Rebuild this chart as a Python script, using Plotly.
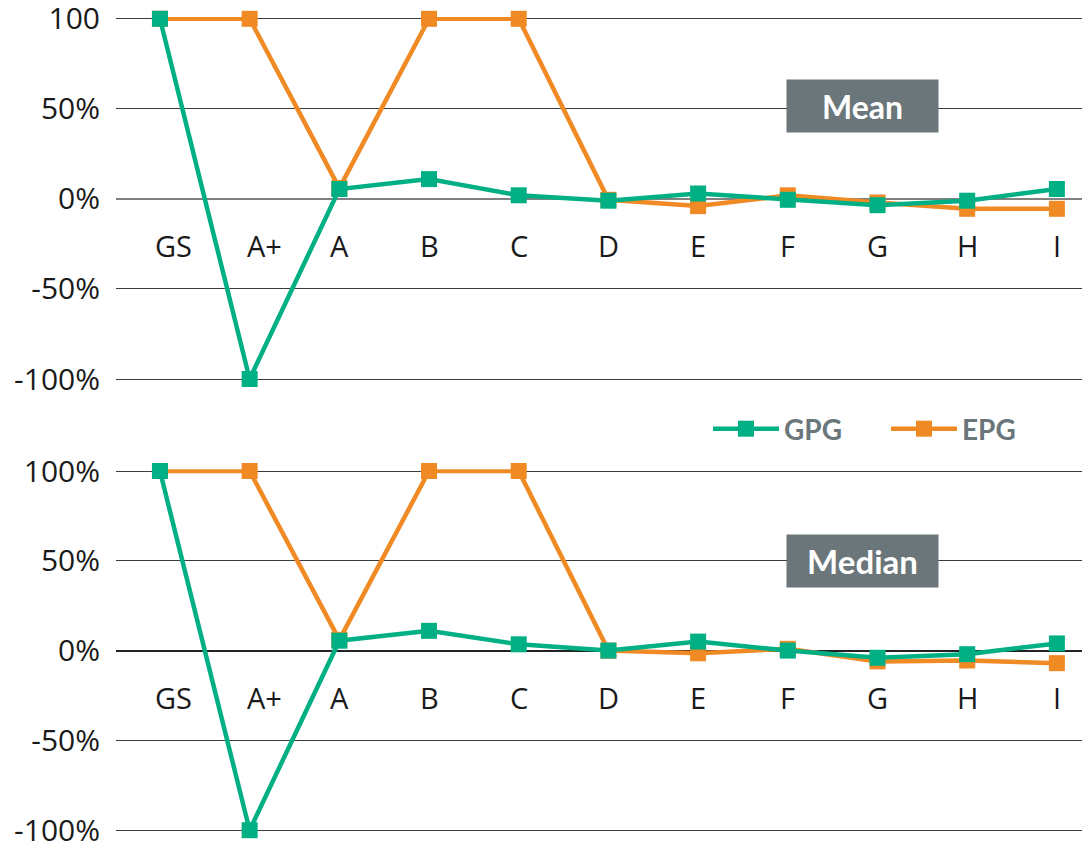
import plotly.graph_objects as go
from plotly.subplots import make_subplots

categories = ["GS", "A+", "A", "B", "C", "D", "E", "F", "G", "H", "I"]

mean_gpg = [100, -100, 5.5, 11, 2, -1, 3, -0.5, -3.5, -1, 5.5]
mean_epg = [100, 100, 6, 100, 100, -0.5, -4, 2, -2, -5.5, -5.5]

median_gpg = [100, -100, 5.5, 11, 3.5, 0, 5, 0, -4, -2, 4]
median_epg = [100, 100, 6, 100, 100, 0, -1.5, 1, -6, -5.5, -7]

y_ticks = [100, 50, 0, -50, -100]
top_tick_text = ["100", "50%", "0%", "-50%", "-100%"]
bottom_tick_text = ["100%", "50%", "0%", "-50%", "-100%"]

GREEN = "#00b084"
ORANGE = "#f08a24"
BOX = "#6a7679"
TEXT = "#1a1a1a"
TICK_FONT = dict(family="Open Sans, Noto Sans, sans-serif", size=30, color=TEXT)

# plot area spans 116..1082 px horizontally and 17..832 px vertically
PLOT_BOTTOM, PLOT_H = 832, 815


def paper_y(px):
    return (PLOT_BOTTOM - px) / PLOT_H


fig = make_subplots(rows=2, cols=1, vertical_spacing=0.0)


def add_pair(gpg, epg, row, legend):
    # orange first so the green series sits on top
    fig.add_trace(go.Scatter(
        x=categories, y=epg, name="EPG", mode="lines+markers",
        line=dict(color=ORANGE, width=4.5),
        marker=dict(symbol="square", size=16, color=ORANGE),
        cliponaxis=False, showlegend=legend, legendrank=2,
    ), row=row, col=1)
    fig.add_trace(go.Scatter(
        x=categories, y=gpg, name="GPG", mode="lines+markers",
        line=dict(color=GREEN, width=4.5),
        marker=dict(symbol="square", size=16, color=GREEN),
        cliponaxis=False, showlegend=legend, legendrank=1,
    ), row=row, col=1)


add_pair(mean_gpg, mean_epg, 1, True)
add_pair(median_gpg, median_epg, 2, False)

top_domain = [paper_y(380.8), 1.0]
bottom_domain = [0.0, paper_y(469.2)]

for i, (dom, texts) in enumerate([(top_domain, top_tick_text),
                                  (bottom_domain, bottom_tick_text)], start=1):
    fig.update_yaxes(
        row=i, col=1, domain=dom, range=[-101, 101],
        tickvals=y_ticks, ticktext=texts, tickfont=TICK_FONT,
        showgrid=True, gridcolor="#3c3c3c", gridwidth=1,
        zeroline=True, zerolinecolor="#808080" if i == 1 else "#222222",
        zerolinewidth=2 if i == 1 else 1.5,
        showline=False, ticks="", ticklabelstandoff=15,
        ticklabeloverflow="allow", fixedrange=True,
    )
    fig.update_xaxes(
        row=i, col=1, range=[-0.49, 10.28], showticklabels=False,
        showgrid=False, zeroline=False, showline=False, ticks="",
        fixedrange=True,
    )

# the first two labels are nudged right, clear of the steep lines
label_shift = {"GS": 14, "A+": 15}

annotations = []
# category labels sitting just below the zero line of each panel
for yref in ["y", "y2"]:
    for cat in categories:
        annotations.append(dict(
            x=cat, y=-26, xref="x" if yref == "y" else "x2", yref=yref,
            text=cat, showarrow=False, xshift=label_shift.get(cat, 0),
            font=dict(family="Open Sans, Noto Sans, sans-serif", size=29, color=TEXT),
        ))

# panel titles in grey boxes
for label, ypix, size in [("Mean", 106, 32), ("Median", 561.5, 33)]:
    annotations.append(dict(
        x=(862.5 - 116) / 966, y=paper_y(ypix), xref="paper", yref="paper",
        text=f"<b>{label}</b>", showarrow=False, xanchor="center", yanchor="middle",
        bgcolor=BOX, width=151, height=52, borderpad=0,
        font=dict(family="Lato, sans-serif", size=size, color="white"),
    ))

fig.update_layout(
    width=1091, height=847,
    margin=dict(l=116, r=9, t=17, b=15, autoexpand=False),
    paper_bgcolor="white", plot_bgcolor="white",
    annotations=annotations,
    legend=dict(
        orientation="h", x=(708 - 116) / 966, y=paper_y(429),
        xanchor="left", yanchor="middle",
        font=dict(family="Lato, sans-serif", size=28, color=BOX, weight="bold"),
        bgcolor="rgba(0,0,0,0)", itemwidth=66, entrywidth=97,
    ),
)

fig.write_html("out.html")
